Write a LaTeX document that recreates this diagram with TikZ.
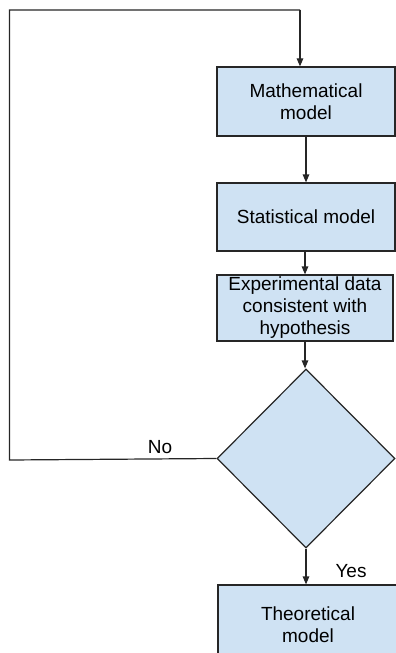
\documentclass[tikz,border=0pt]{standalone}
\usepackage{fontspec}
\setmainfont{Liberation Sans}
\usetikzlibrary{shapes.geometric,arrows.meta}
\definecolor{boxfill}{HTML}{CFE2F3}
\definecolor{linec}{HTML}{262626}
\begin{document}
\begin{tikzpicture}[x=1bp,y=-1bp,
  every node/.style={font=\fontsize{19bp}{22bp}\selectfont},
  box/.style={draw=linec,fill=boxfill,line width=1.2bp,rectangle,inner sep=0pt,align=center},
  dec/.style={draw=linec,fill=boxfill,line width=1.2bp,diamond,inner sep=0pt},
  conn/.style={draw=linec,line width=1.2bp,-{Triangle[length=8bp,width=6.5bp]}},
  plain/.style={draw=linec,line width=1.2bp}]
\useasboundingbox (0,0) rectangle (395,653);
\node[box,minimum width=178bp,minimum height=69bp] (mm) at (306,101.5) {Mathematical\\model};
\node[box,minimum width=178bp,minimum height=68bp] (sm) at (306,217) {Statistical model};
\node[box,minimum width=176bp,minimum height=66bp] (ed) at (305,308) {Experimental data\\consistent with\\hypothesis};
\node[dec,minimum width=178bp,minimum height=179bp] (dia) at (306,458.5) {};
\node[box,minimum width=180bp,minimum height=80bp] (tm) at (308,625) {Theoretical\\model};
\coordinate (c1) at (9.5,460);
\coordinate (c2) at (9.5,10);
\coordinate (c3) at (300,10);
\draw[plain] (dia.west) -- (c1) -- (c2) -- (c3);
\draw[conn] (c3) -- (c3 |- mm.north);
\draw[conn] (mm.south) -- (sm.north);
\draw[conn] (sm.south -| ed.south) -- (ed.north);
\draw[conn] (ed.south) -- (ed.south |- dia.north);
\draw[conn] (dia.south) -- (dia.south |- tm.north);
\node (no) at (160,447) {No};
\node (yes) at (351,571) {Yes};
\end{tikzpicture}
\end{document}
